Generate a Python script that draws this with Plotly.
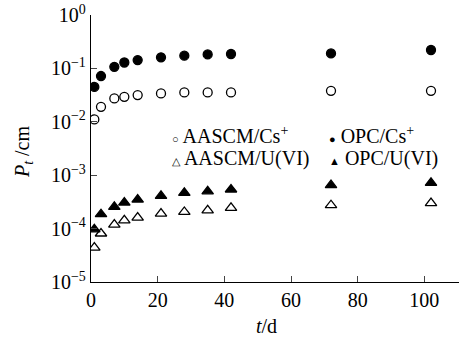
import plotly.graph_objects as go

t_days = [1, 3, 7, 10, 14, 21, 28, 35, 42, 72, 102]
aascm_cs = [0.0111, 0.0191, 0.0274, 0.0294, 0.0316, 0.034, 0.0355, 0.0355, 0.0355, 0.038, 0.038]
opc_cs = [0.045, 0.072, 0.107, 0.129, 0.143, 0.161, 0.173, 0.183, 0.186, 0.191, 0.221]
aascm_u = [4.4e-5, 8.1e-5, 1.19e-4, 1.43e-4, 1.61e-4, 1.91e-4, 2.05e-4, 2.2e-4, 2.44e-4, 2.74e-4, 3.0e-4]
opc_u = [9.7e-5, 1.86e-4, 2.55e-4, 3.07e-4, 3.5e-4, 4.1e-4, 4.67e-4, 5.0e-4, 5.4e-4, 6.5e-4, 7.2e-4]

x_ticks = [0, 20, 40, 60, 80, 100]
y_ticks = [1e-5, 1e-4, 1e-3, 1e-2, 1e-1, 1]
y_ticktext = ["10<sup>−5</sup>", "10<sup>−4</sup>", "10<sup>−3</sup>", "10<sup>−2</sup>",
              "10<sup>−1</sup>", "10<sup>0</sup>"]
x_ticktext = [str(v) for v in x_ticks]

FONT = "Liberation Serif"
FS = 20

fig = go.Figure()
series = [
    ("AASCM/Cs<sup>+</sup>", aascm_cs, "circle-open", 9),
    ("OPC/Cs<sup>+</sup>", opc_cs, "circle", 9),
    ("AASCM/U(VI)", aascm_u, "triangle-up-open", 10),
    ("OPC/U(VI)", opc_u, "triangle-up", 10),
]
for name, ys, sym, sz in series:
    fig.add_trace(go.Scatter(
        x=t_days, y=ys, mode="markers", name=name,
        marker=dict(symbol=sym, size=sz, color="black", line=dict(color="black", width=1.3)),
        showlegend=False,
    ))

# legend drawn as text annotations
glyph = "<span style='font-size:11px'>{}</span> "
leg = [
    (glyph.format("○") + "AASCM/Cs<sup>+</sup>", 0.214, 0.55),
    (glyph.format("●") + "OPC/Cs<sup>+</sup>", 0.64, 0.55),
    (glyph.format("△") + "AASCM/U(VI)", 0.214, 0.463),
    (glyph.format("▲") + "OPC/U(VI)", 0.64, 0.463),
]
for txt, xp, yp in leg:
    fig.add_annotation(text=txt, x=xp, y=yp, xref="paper", yref="paper",
                       xanchor="left", yanchor="middle", showarrow=False,
                       font=dict(family=FONT, size=FS, color="black"))

# axis titles
fig.add_annotation(text="<i>t</i>/d", x=0.478, y=-0.165, xref="paper", yref="paper",
                   xanchor="center", yanchor="middle", showarrow=False,
                   font=dict(family=FONT, size=FS, color="black"))
fig.add_annotation(text="<i>P<sub>t</sub></i> /cm", x=-0.185, y=0.49, xref="paper", yref="paper",
                   xanchor="center", yanchor="middle", showarrow=False, textangle=-90,
                   font=dict(family=FONT, size=FS, color="black"))

fig.update_layout(
    width=466, height=339,
    margin=dict(l=91, r=7, t=15, b=57),
    paper_bgcolor="white", plot_bgcolor="white",
    font=dict(family=FONT, size=FS, color="black"),
)
fig.update_xaxes(
    range=[0, 110.4], tickvals=x_ticks, ticktext=x_ticktext,
    ticks="inside", ticklen=6, tickwidth=1.2,
    showline=True, linecolor="black", linewidth=1.3, showgrid=False, zeroline=False,
    automargin=False, tickfont=dict(family=FONT, size=FS, color="black"),
)
fig.update_yaxes(
    type="log", range=[-5, 0], tickvals=y_ticks, ticktext=y_ticktext,
    ticks="inside", ticklen=6, tickwidth=1.2,
    showline=True, linecolor="black", linewidth=1.3, showgrid=False, zeroline=False,
    automargin=False, tickfont=dict(family=FONT, size=FS, color="black"),
)

fig.write_html("out.html", config={"displayModeBar": False},
               post_script="document.body.style.margin='0';")
